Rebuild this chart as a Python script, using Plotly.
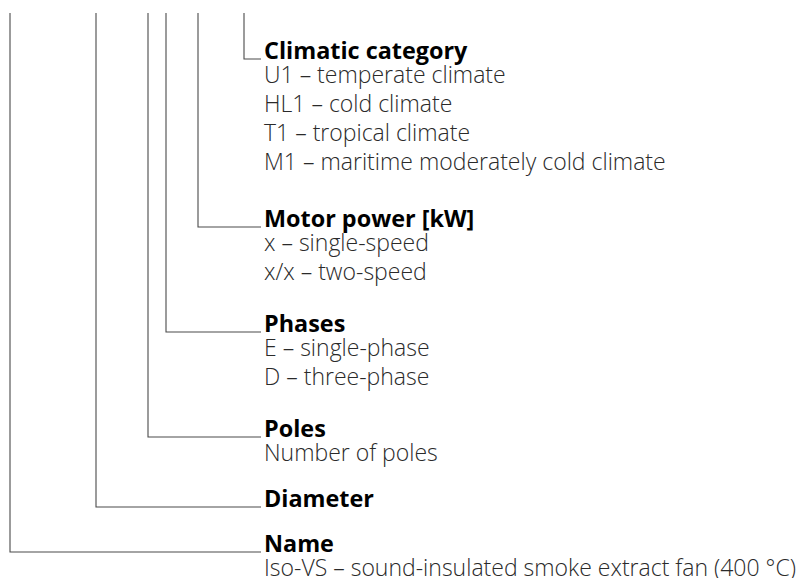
import plotly.graph_objects as go

# ---- content ----
titles = ["Climatic category", "Motor power [kW]", "Phases", "Poles", "Diameter", "Name"]
items = [
    ["U1 – temperate climate", "HL1 – cold climate", "T1 – tropical climate",
     "M1 – maritime moderately cold climate"],
    ["x – single-speed", "x/x – two-speed"],
    ["E – single-phase", "D – three-phase"],
    ["Number of poles"],
    [],
    ["Iso-VS – sound-insulated smoke extract fan (400 °C)"],
]

# ---- layout (pixel coordinates on an 811x578 canvas) ----
W, H = 811, 578
OFF = 8  # default page body margin
leader_x = [244, 198, 166, 148, 96, 10]
title_baseline = [59, 227, 332, 437, 507, 552]
top_y = 13
line_end_x = 261
text_x = 262
first_gap = 24
line_step = 29
fs_t = 23.4
fs_b = 23.0

fig = go.Figure()
for xc, yb in zip(leader_x, title_baseline):
    fig.add_trace(go.Scatter(
        x=[xc, xc, line_end_x], y=[top_y, yb, yb], mode="lines",
        line=dict(color="#4a4a4a", width=1.1), hoverinfo="skip", showlegend=False))

ann = []
for t, its, yb in zip(titles, items, title_baseline):
    ann.append(dict(x=text_x, y=yb - 0.39 * fs_t, text="<b>" + t + "</b>",
                    xanchor="left", yanchor="middle", showarrow=False,
                    font=dict(family="Open Sans", size=fs_t, color="#000000", weight=700)))
    for k, s in enumerate(its):
        b = yb + first_gap + k * line_step
        ann.append(dict(x=text_x, y=b - 0.39 * fs_b, text=s,
                        xanchor="left", yanchor="middle", showarrow=False,
                        font=dict(family="Open Sans", size=fs_b, color="#2a2a2a", weight=300)))

fig.update_layout(
    width=W, height=H, margin=dict(l=0, r=0, t=0, b=0),
    paper_bgcolor="white", plot_bgcolor="white",
    xaxis=dict(range=[OFF, W + OFF], visible=False, fixedrange=True),
    yaxis=dict(range=[H + OFF, OFF], visible=False, fixedrange=True),
    annotations=ann,
)
fig.write_html("out.html")
